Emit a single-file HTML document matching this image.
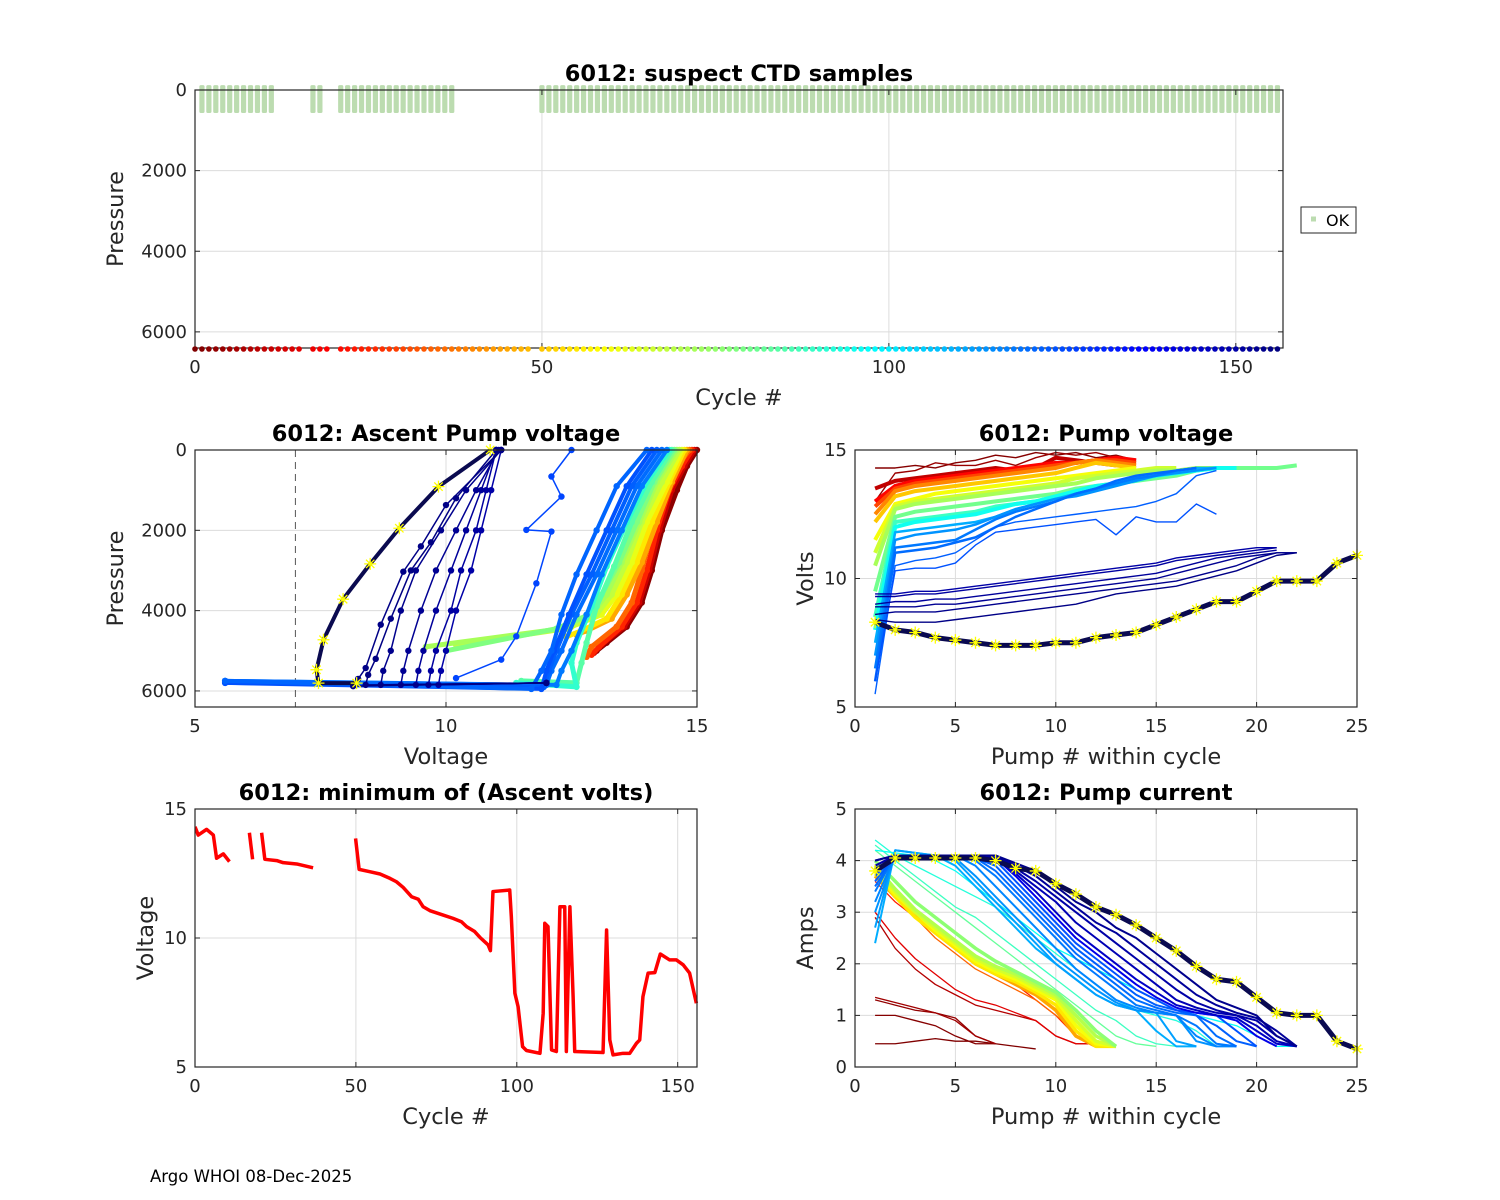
<!DOCTYPE html>
<html><head><meta charset="utf-8"><title>6012 pump diagnostics</title>
<style>
html,body{margin:0;padding:0;background:#fff;}
svg{display:block;font-family:"DejaVu Sans","Liberation Sans",sans-serif;}
</style></head>
<body>
<svg id="fig" width="1500" height="1200" viewBox="0 0 1500 1200" xmlns="http://www.w3.org/2000/svg">
<rect x="0" y="0" width="1500" height="1200" fill="#fff"/>
<text x="150" y="1182" font-size="16.5" fill="#000">Argo WHOI 08-Dec-2025</text>
</svg>
<script>
// ---------- DATA ----------
const okCycles = [1,2,3,4,5,6,7,8,9,10,11,17,18,21,22,23,24,25,26,27,28,29,30,31,32,33,34,35,36,37];
const okCyclesLate = [50,156];
const okPresTop = -120;
const okPresBot = 570;
const cycleDots = [0,1,2,3,4,5,6,7,8,9,10,11,12,13,14,15,17,18,19];
const cycleDotsLate = [21,156];
const cycleDotsMissing = [49];
const maxCycle = 156;

const minCycles = [0,1,3.6,5.7,6.7,8.8,10.7,null,16.9,17.9,null,20.7,21.7,25.4,27.4,31.6,36.7,null,
 49.9,51.0,54.3,57.5,60.6,62.6,64.7,67.3,69.4,70.9,73.0,77.1,80.2,82.8,84.4,86.9,88.5,91.1,91.8,92.6,97.8,98.3,99.4,100.4,101.8,103.0,107.2,108.2,108.7,109.7,110.8,112.3,113.4,114.9,115.4,116.5,117.5,118.0,126.8,127.9,128.9,129.9,133.0,135.1,137.2,138.2,139.2,140.8,142.9,144.6,147.5,149.6,151.7,153.7,155.8];
const minVolts = [14.31,13.99,14.21,13.99,13.09,13.26,12.96,null,14.08,13.05,null,14.08,13.05,13.0,12.92,12.87,12.72,null,
 13.86,12.66,12.57,12.48,12.31,12.18,11.96,11.60,11.5,11.21,11.06,10.89,10.76,10.63,10.44,10.25,10.03,9.73,9.51,11.8,11.86,10.83,7.86,7.34,5.79,5.64,5.53,7.08,10.57,10.44,5.66,5.6,11.21,11.21,5.6,11.21,7.73,5.6,5.56,10.31,6.05,5.47,5.53,5.53,5.92,6.05,7.73,8.64,8.66,9.38,9.15,9.15,8.96,8.64,7.47];

const ascCycles = [2,12,25,35,45,55,62,68,72,78,84,90,118,120,122,124,126,121,150,151,152,153,154,155,155.5,156];
const ascVolts = [
 [15,14.8,14.6,14.3,14.1,13.9,13.6,13.2,13.0],
 [14.95,14.75,14.5,14.25,14.05,13.85,13.55,13.1,12.95],
 [14.9,14.7,14.45,14.2,14.0,13.8,13.5,13.05,12.9],
 [14.85,14.6,14.35,14.1,13.9,13.7,13.4,12.9,12.8],
 [14.8,14.5,14.2,13.9,13.6,13.3,12.8,12.6],
 [14.75,14.45,14.1,13.8,13.5,13.2,12.7,12.4],
 [14.7,14.4,14.0,13.7,13.4,13.1,12.5,10.8],
 [14.65,14.3,13.9,13.6,13.3,13.0,12.4,10.2],
 [14.6,14.2,13.85,13.5,13.2,12.9,12.3,9.6],
 [14.55,14.15,13.8,13.45,13.1,12.85,12.2,10.0],
 [14.5,14.1,13.7,13.35,13.0,12.8,12.7,12.6,11.5],
 [14.45,14.0,13.6,13.2,12.9,12.6,12.5,12.6,11.4],
 [14.4,13.9,13.5,13.1,12.8,12.5,12.3,12.2,5.6],
 [14.3,13.8,13.4,13.0,12.6,12.3,12.1,12.0,5.6],
 [14.2,13.7,13.3,12.9,12.5,12.2,12.05,11.95,5.6],
 [14.1,13.6,13.2,12.8,12.45,12.15,12.0,11.9,5.6],
 [12.5,12.1,12.3,11.6,12.1,11.8,11.4,11.1,10.2],
 [14.0,13.4,13.0,12.6,12.3,12.1,11.9,11.7,5.6],
 [11.1,10.9,10.7,10.5,10.2,10.0,9.9,9.85,12.0],
 [11.0,10.8,10.6,10.3,10.1,9.8,9.7,9.65,12.0],
 [11.0,10.7,10.4,10.1,9.8,9.55,9.45,9.4,12.0],
 [11.05,10.6,10.2,9.8,9.5,9.25,9.15,9.1,12.0],
 [11.1,10.4,9.9,9.4,9.1,8.9,8.75,8.7,12.0],
 [11.1,10.0,9.5,9.15,8.7,8.4,8.25,8.15,12.0],
 [11.0,10.2,9.7,9.3,8.9,8.6,8.45,8.4,12.0],
 [10.88,9.85,9.07,8.49,7.95,7.56,7.42,7.46,8.22]
];
const ascPres = [
 [0,400,1000,2000,3000,3800,4400,4800,5000],
 [0,400,1000,2000,3000,3800,4400,4850,5050],
 [0,400,1000,2000,3000,3800,4400,4900,5100],
 [0,400,1000,2000,3000,3800,4400,4900,5150],
 [0,800,1800,2800,3600,4200,4500,4600],
 [0,800,1800,2800,3600,4200,4500,4650],
 [0,800,1800,2800,3600,4100,4400,4750],
 [0,800,1800,2800,3600,4100,4450,4850],
 [0,800,1800,2800,3600,4100,4450,4900],
 [0,800,1800,2800,3600,4100,4450,5000],
 [0,800,1800,2900,3900,4800,5300,5800,5750],
 [0,800,1800,2900,3900,4800,5300,5900,5800],
 [0,900,2000,3100,4100,5000,5500,5850,5750],
 [0,900,2000,3100,4100,5000,5500,5850,5750],
 [0,900,2000,3100,4100,5000,5500,5900,5800],
 [0,900,2000,3100,4100,5000,5500,5950,5800],
 [0,660,1160,1990,2030,3320,4640,5220,5680],
 [0,900,2000,3100,4100,5000,5500,5950,5750],
 [0,1000,2000,3000,4000,5000,5500,5850,5800],
 [0,1000,2000,3000,4000,5000,5500,5850,5800],
 [0,1000,2000,3000,4000,5000,5500,5850,5800],
 [0,1000,2000,3000,4000,5000,5500,5850,5800],
 [0,1000,2000,3000,4000,5000,5500,5850,5800],
 [0,1370,2400,3030,4350,5430,5700,5880,5800],
 [0,1200,2300,3000,4200,5200,5600,5850,5800],
 [0,912,1948,2836,3715,4726,5473,5805,5805]
];
const ascDashVolt = 7;

const pvCycles = [1,4,10,20,30,40,50,60,66,72,80,88,95,110,114,118,120,122,124,150,151,152,153,154,155,156];
const pvVolts = [
 [14.3,14.3,14.4,14.3,14.5,14.6,14.8,14.7,14.9,14.8,14.9,14.7,14.8,14.6],
 [13.0,14.1,14.2,14.5,14.4,14.4,14.6,14.4,14.7,14.9,14.8,14.9,14.7],
 [13.5,13.8,13.9,14.0,14.1,14.2,14.3,14.2,14.3,14.7,14.6,14.5,14.4],
 [13.0,13.6,13.8,13.9,14.0,14.1,14.2,14.3,14.4,14.5,14.5,14.6,14.7,14.6],
 [12.8,13.5,13.7,13.8,13.9,14.0,14.1,14.2,14.3,14.4,14.5,14.6,14.6,14.5],
 [12.5,13.4,13.6,13.7,13.8,13.9,14.0,14.1,14.2,14.3,14.5,14.6,14.5,14.4],
 [12.2,13.2,13.4,13.5,13.6,13.7,13.8,13.9,14.0,14.1,14.3,14.5,14.4,14.3],
 [11.5,12.9,13.1,13.3,13.4,13.5,13.6,13.7,13.8,13.9,14.0,14.1,14.2,14.3],
 [11.0,12.8,13.0,13.1,13.2,13.3,13.4,13.5,13.6,13.7,13.9,14.0,14.1,14.2,14.3,14.3],
 [10.5,12.7,12.9,13.0,13.1,13.2,13.3,13.4,13.5,13.6,13.7,13.9,14.0,14.1,14.2,14.2,14.3,14.3,14.3],
 [9.5,12.4,12.6,12.7,12.8,12.9,13.0,13.1,13.2,13.3,13.5,13.6,13.7,13.8,13.9,14.0,14.2,14.3,14.3,14.3,14.3,14.4],
 [8.5,12.2,12.3,12.4,12.5,12.6,12.8,12.9,13.0,13.2,13.3,13.5,13.7,13.8,14.0,14.1,14.2,14.3,14.3],
 [8.0,12.0,12.2,12.3,12.4,12.5,12.7,12.9,13.0,13.2,13.4,13.6,13.7,13.9,14.0,14.1,14.2,14.3,14.3],
 [7.5,11.8,11.9,12.0,12.1,12.2,12.4,12.7,12.9,13.1,13.3,13.5,13.7,13.9,14.0,14.2,14.3,14.3],
 [7.0,11.5,11.7,11.8,11.9,12.1,12.4,12.7,12.9,13.1,13.2,13.4,13.6,13.8,14.0,14.1,14.2,14.3],
 [6.5,11.2,11.3,11.4,11.5,11.9,12.3,12.6,12.8,13.0,13.3,13.5,13.7,13.9,14.0,14.2,14.3],
 [6.0,11.0,11.1,11.2,11.4,11.6,12.0,12.4,12.7,13.0,13.3,13.5,13.8,14.0,14.1,14.2,14.3],
 [5.5,10.5,10.7,10.8,11.0,11.5,12.0,12.2,12.3,12.4,12.5,12.6,12.7,12.8,13.0,13.3,14.0,14.2],
 [6.0,10.3,10.4,10.4,10.6,11.3,11.8,11.9,12.0,12.1,12.2,12.3,11.7,12.4,12.2,12.2,12.9,12.5],
 [9.4,9.4,9.5,9.5,9.6,9.7,9.8,9.9,10.0,10.1,10.2,10.3,10.4,10.5,10.6,10.8,10.9,11.0,11.1,11.2,11.2],
 [9.3,9.3,9.4,9.4,9.5,9.6,9.7,9.8,9.9,10.0,10.1,10.2,10.3,10.4,10.5,10.7,10.8,10.9,11.0,11.1,11.2],
 [9.0,9.1,9.1,9.2,9.2,9.3,9.4,9.5,9.6,9.7,9.8,9.9,10.0,10.1,10.2,10.4,10.6,10.8,10.9,11.0,11.1],
 [8.9,8.9,8.9,9.0,9.0,9.1,9.2,9.3,9.4,9.5,9.6,9.7,9.8,9.9,10.0,10.2,10.4,10.6,10.8,10.9,11.0,11.0],
 [8.6,8.7,8.7,8.7,8.8,8.9,9.0,9.1,9.2,9.3,9.4,9.5,9.6,9.7,9.8,9.9,10.1,10.3,10.5,10.8,11.0,11.0],
 [8.4,8.3,8.3,8.3,8.4,8.5,8.6,8.7,8.8,8.9,9.0,9.2,9.4,9.5,9.6,9.7,9.9,10.1,10.3,10.6,10.9,11.0],
 [8.3,8.0,7.9,7.7,7.6,7.5,7.4,7.4,7.4,7.5,7.5,7.7,7.8,7.9,8.2,8.5,8.8,9.1,9.1,9.5,9.9,9.9,9.9,10.6,10.9]
];

const pcCycles = [0,1,3,5,8,15,25,35,45,55,60,65,70,76,82,88,92,96,110,112,114,116,118,120,122,124,140,145,148,150,152,154,156];
const pcAmps = [
 [0.45,0.45,0.5,0.55,0.5,0.5,0.45,0.4,0.35],
 [1.0,1.0,0.9,0.8,0.6,0.45,0.45],
 [1.3,1.2,1.1,1.05,0.95,0.6,0.45],
 [1.35,1.25,1.15,1.05,0.9,0.6,0.45],
 [2.9,2.3,1.9,1.6,1.4,1.2,1.1,1.0,0.9,0.6,0.45,0.45],
 [3.0,2.5,2.1,1.8,1.5,1.3,1.2,1.05,0.9,0.6,0.45,0.45],
 [3.6,3.2,2.9,2.6,2.3,2.0,1.8,1.6,1.3,1.0,0.6,0.4],
 [3.7,3.3,2.9,2.5,2.2,1.9,1.7,1.5,1.3,1.0,0.7,0.4],
 [3.7,3.3,2.95,2.6,2.3,2.0,1.8,1.6,1.4,1.1,0.6,0.4],
 [3.8,3.3,2.9,2.6,2.3,2.0,1.8,1.65,1.45,1.2,0.7,0.4,0.4],
 [3.8,3.35,3.0,2.65,2.35,2.05,1.85,1.7,1.5,1.3,0.8,0.45,0.4],
 [3.9,3.4,3.0,2.7,2.4,2.1,1.9,1.75,1.55,1.35,0.9,0.5,0.4],
 [3.9,3.45,3.05,2.75,2.45,2.15,1.95,1.8,1.6,1.4,1.0,0.6,0.4],
 [4.0,3.6,3.2,2.9,2.6,2.3,2.05,1.85,1.65,1.45,1.1,0.7,0.4],
 [4.2,3.9,3.6,3.3,3.0,2.7,2.4,2.1,1.8,1.5,1.2,0.9,0.6,0.45,0.4],
 [4.3,4.0,3.7,3.4,3.1,2.9,2.6,2.3,2.0,1.7,1.4,1.1,0.9,0.6,0.45,0.4],
 [4.4,4.1,3.9,3.7,3.5,3.3,3.1,2.8,2.5,2.2,1.9,1.6,1.3,1.1,1.0,0.9,0.7,0.4],
 [4.2,4.15,4.1,4.0,3.8,3.5,3.2,2.9,2.6,2.3,2.1,1.9,1.7,1.5,1.3,1.1,1.0,0.9,0.8,0.6,0.4,0.4],
 [2.4,4.2,4.15,4.1,3.9,3.5,3.1,2.7,2.3,2.0,1.7,1.4,1.2,1.1,0.7,0.4,0.4],
 [2.7,4.2,4.15,4.1,4.0,3.6,3.2,2.8,2.4,2.0,1.7,1.4,1.2,1.1,1.05,0.5,0.4],
 [3.0,4.1,4.1,4.1,4.05,3.7,3.3,2.9,2.5,2.1,1.8,1.5,1.25,1.1,1.05,1.0,0.5,0.4],
 [3.2,4.1,4.1,4.1,4.1,3.9,3.5,3.1,2.7,2.3,1.9,1.6,1.3,1.15,1.05,1.0,0.6,0.4,0.4],
 [3.4,4.1,4.1,4.1,4.1,4.0,3.7,3.3,2.9,2.5,2.1,1.8,1.5,1.2,1.1,1.0,0.8,0.45,0.4],
 [3.5,4.1,4.1,4.1,4.1,4.05,3.8,3.4,3.0,2.6,2.2,1.9,1.6,1.3,1.15,1.05,1.0,0.6,0.4],
 [3.6,4.1,4.1,4.1,4.1,4.05,3.9,3.5,3.1,2.7,2.3,2.0,1.7,1.4,1.2,1.1,1.0,0.8,0.5,0.4],
 [3.7,4.1,4.1,4.1,4.1,4.1,4.0,3.6,3.2,2.8,2.4,2.1,1.8,1.5,1.3,1.1,1.05,1.0,0.7,0.4],
 [3.8,4.1,4.1,4.1,4.1,4.1,4.05,3.7,3.3,2.9,2.5,2.2,1.9,1.6,1.35,1.15,1.05,1.0,0.9,0.6,0.4],
 [3.8,4.1,4.1,4.1,4.1,4.1,4.05,3.75,3.4,3.0,2.6,2.3,2.0,1.7,1.45,1.2,1.1,1.0,0.95,0.7,0.45,0.4],
 [3.9,4.1,4.1,4.1,4.1,4.1,4.05,3.8,3.5,3.2,2.8,2.5,2.2,1.9,1.6,1.3,1.15,1.05,1.0,0.8,0.5,0.4],
 [3.9,4.1,4.1,4.1,4.1,4.1,4.1,3.85,3.6,3.3,3.0,2.7,2.4,2.1,1.8,1.5,1.25,1.1,1.0,0.9,0.6,0.4],
 [4.0,4.1,4.1,4.1,4.1,4.1,4.1,3.9,3.7,3.4,3.1,2.8,2.6,2.3,2.0,1.7,1.4,1.2,1.05,0.95,0.7,0.4],
 [4.0,4.1,4.1,4.1,4.1,4.1,4.1,3.95,3.8,3.5,3.2,3.0,2.7,2.5,2.2,1.9,1.6,1.3,1.15,1.0,0.6,0.4],
 [3.8,4.05,4.05,4.05,4.05,4.05,4.0,3.85,3.8,3.55,3.35,3.1,2.95,2.75,2.5,2.25,1.95,1.7,1.65,1.35,1.05,1.0,1.0,0.5,0.35]
];

// ---------- DRAWING ----------
const NS = 'http://www.w3.org/2000/svg';
const svg = document.getElementById('fig');
function mk(tag, attrs, parent) {
  const e = document.createElementNS(NS, tag);
  for (const k in attrs) e.setAttribute(k, attrs[k]);
  (parent || svg).appendChild(e);
  return e;
}
function clamp(v){return Math.max(0,Math.min(1,v));}
function jet(t){
  const r=clamp(1.5-Math.abs(4*t-3)), g=clamp(1.5-Math.abs(4*t-2)), b=clamp(1.5-Math.abs(4*t-1));
  return 'rgb('+Math.round(r*255)+','+Math.round(g*255)+','+Math.round(b*255)+')';
}
function cycColor(c){ return jet(1 - c/maxCycle); }

let clipId = 0;
function makeAxes(o) {
  const g = mk('g', {});
  
  
  const sx = v => o.L + (v - o.x0) / (o.x1 - o.x0) * (o.R - o.L);
  const sy = o.rev ? (v => o.T + (v - o.y0) / (o.y1 - o.y0) * (o.B - o.T))
                   : (v => o.B - (v - o.y0) / (o.y1 - o.y0) * (o.B - o.T));
  mk('rect', {x:o.L, y:o.T, width:o.R-o.L, height:o.B-o.T, fill:'#fff'}, g);
  o.xt.forEach(v => {
    const l = mk('line', {x1:sx(v), x2:sx(v), y1:o.T, y2:o.B, stroke:'#dcdcdc', 'stroke-width':1}, g);
    
    
  });
  o.yt.forEach(v => {
    const l = mk('line', {x1:o.L, x2:o.R, y1:sy(v), y2:sy(v), stroke:'#dcdcdc', 'stroke-width':1}, g);
    
    
  });
  clipId++;
  const cp = mk('clipPath', {id:'cp'+clipId}, g);
  mk('rect', {x:o.L, y:o.T-6, width:o.R-o.L+6, height:o.B-o.T+12}, cp);
  const data = mk('g', {'clip-path':'url(#cp'+clipId+')'}, g);
  
  
  return {g, data, sx, sy, o};
}
function finishAxes(ax) {
  const o = ax.o, g = ax.g, sx = ax.sx, sy = ax.sy;
  const box = mk('rect', {x:o.L, y:o.T, width:o.R-o.L, height:o.B-o.T, fill:'none', stroke:'#262626', 'stroke-width':1.2}, g);
  
  
  const tl = 5;
  o.xt.forEach((v,i) => {
    mk('line', {x1:sx(v), x2:sx(v), y1:o.B, y2:o.B-tl, stroke:'#262626'}, g);
    mk('line', {x1:sx(v), x2:sx(v), y1:o.T, y2:o.T+tl, stroke:'#262626'}, g);
    const t = mk('text', {x:sx(v), y:o.B+25, 'font-size':18, 'text-anchor':'middle', fill:'#262626'}, g);
    t.textContent = o.xl[i];
    
    
  });
  o.yt.forEach((v,i) => {
    mk('line', {x1:o.L, x2:o.L+tl, y1:sy(v), y2:sy(v), stroke:'#262626'}, g);
    mk('line', {x1:o.R, x2:o.R-tl, y1:sy(v), y2:sy(v), stroke:'#262626'}, g);
    const t = mk('text', {x:o.L-8, y:sy(v)+6, 'font-size':18, 'text-anchor':'end', fill:'#262626'}, g);
    t.textContent = o.yl[i];
    
    
  });
  const ti = mk('text', {x:(o.L+o.R)/2, y:o.T-9, 'font-size':22.5, 'font-weight':'bold', 'text-anchor':'middle', fill:'#000'}, g);
  ti.textContent = o.title;
  
  
  const xlab = mk('text', {x:(o.L+o.R)/2, y:o.B+57, 'font-size':22.5, 'text-anchor':'middle', fill:'#262626'}, g);
  xlab.textContent = o.xlabel;
  
  
  const yx = o.L - o.ylabOff, yy = (o.T+o.B)/2;
  const ylab = mk('text', {x:yx, y:yy, 'font-size':22.5, 'text-anchor':'middle', fill:'#262626', transform:'rotate(-90 '+yx+' '+yy+')'}, g);
  ylab.textContent = o.ylabel;
  
  
}
function star(parent, x, y, r) {
  const s = mk('path', {d:'M'+(x-r)+' '+y+'H'+(x+r)+'M'+x+' '+(y-r)+'V'+(y+r)+
    'M'+(x-r*0.7)+' '+(y-r*0.7)+'L'+(x+r*0.7)+' '+(y+r*0.7)+'M'+(x-r*0.7)+' '+(y+r*0.7)+'L'+(x+r*0.7)+' '+(y-r*0.7),
    stroke:'#ffff00', 'stroke-width':1.3, fill:'none'}, parent);
  
  
}

// ---- Top axes ----
const axT = makeAxes({name:'suspect-ctd-axes', L:195, R:1283, T:90, B:348, x0:0, x1:156.8, y0:0, y1:6400, rev:true,
  xt:[0,50,100,150], xl:['0','50','100','150'], yt:[0,2000,4000,6000], yl:['0','2000','4000','6000'],
  title:'6012: suspect CTD samples', xlabel:'Cycle #', ylabel:'Pressure', ylabOff:72});
const okAll = okCycles.slice();
for (let c = okCyclesLate[0]; c <= okCyclesLate[1]; c++) okAll.push(c);
okAll.forEach(c => {
  const r = mk('rect', {x:axT.sx(c)-2.6, y:axT.sy(okPresTop), width:5.2, height:axT.sy(okPresBot)-axT.sy(okPresTop), rx:1.5, fill:'#bcdcb0'}, axT.data);
  
  
});
const dotsAll = cycleDots.slice();
for (let c = cycleDotsLate[0]; c <= cycleDotsLate[1]; c++) if (cycleDotsMissing.indexOf(c) < 0) dotsAll.push(c);
finishAxes(axT);
dotsAll.forEach(c => {
  const d = mk('circle', {cx:axT.sx(c), cy:axT.sy(6400)+1, r:2.8, fill:cycColor(c)}, axT.g);
  
  
});
const leg = mk('g', {});


mk('rect', {x:1301, y:207, width:55, height:26, fill:'#fff', stroke:'#262626', 'stroke-width':1}, leg);
const legM = mk('rect', {x:1311, y:216.5, width:5, height:5, fill:'#bcdcb0'}, leg);


const legT = mk('text', {x:1326, y:226, 'font-size':16, fill:'#000'}, leg);
legT.textContent = 'OK';



// ---- Middle-left ----
const axA = makeAxes({name:'ascent-pump-voltage-axes', L:195, R:697, T:450, B:707, x0:5, x1:15, y0:0, y1:6400, rev:true,
  xt:[5,10,15], xl:['5','10','15'], yt:[0,2000,4000,6000], yl:['0','2000','4000','6000'],
  title:'6012: Ascent Pump voltage', xlabel:'Voltage', ylabel:'Pressure', ylabOff:72});
const dash = mk('line', {x1:axA.sx(ascDashVolt), x2:axA.sx(ascDashVolt), y1:450, y2:707, stroke:'#555', 'stroke-dasharray':'7,5', 'stroke-width':1}, axA.data);


ascCycles.forEach((c, i) => {
  const last = i === ascCycles.length - 1;
  const col = last ? '#0a0a50' : cycColor(c);
  const pts = ascVolts[i].map((v, j) => axA.sx(v) + ',' + axA.sy(ascPres[i][j])).join(' ');
  const w = last ? 4 : (c < 100 ? 5 : (c < 126 ? 4 : 1.5));
  const pl = mk('polyline', {points:pts, fill:'none', stroke:col, 'stroke-width':w, 'stroke-linejoin':'round'}, axA.data);
  
  
  ascVolts[i].forEach((v, j) => {
    if (last) { star(axA.data, axA.sx(v), axA.sy(ascPres[i][j]), 6); return; }
    const d = mk('circle', {cx:axA.sx(v), cy:axA.sy(ascPres[i][j]), r:3.2, fill:col}, axA.data);
    
    
  });
});
finishAxes(axA);

// ---- Middle-right ----
const axV = makeAxes({name:'pump-voltage-axes', L:855, R:1357, T:450, B:707, x0:0, x1:25, y0:5, y1:15, rev:false,
  xt:[0,5,10,15,20,25], xl:['0','5','10','15','20','25'], yt:[5,10,15], yl:['5','10','15'],
  title:'6012: Pump voltage', xlabel:'Pump # within cycle', ylabel:'Volts', ylabOff:42});
pvCycles.forEach((c, i) => {
  const last = i === pvCycles.length - 1;
  const col = last ? '#0a0a50' : cycColor(c);
  const pts = pvVolts[i].map((v, j) => axV.sx(j+1) + ',' + axV.sy(v)).join(' ');
  const w = last ? 5 : (c >= 10 && c <= 95 ? 4 : (c >= 110 && c <= 120 ? 2.5 : 1.4));
  const pl = mk('polyline', {points:pts, fill:'none', stroke:col, 'stroke-width':w, 'stroke-linejoin':'round'}, axV.data);
  
  
  if (last) pvVolts[i].forEach((v, j) => star(axV.data, axV.sx(j+1), axV.sy(v), 6));
});
finishAxes(axV);

// ---- Bottom-left ----
const axM = makeAxes({name:'min-ascent-volts-axes', L:195, R:697, T:809, B:1067, x0:0, x1:156, y0:5, y1:15, rev:false,
  xt:[0,50,100,150], xl:['0','50','100','150'], yt:[5,10,15], yl:['5','10','15'],
  title:'6012: minimum of (Ascent volts)', xlabel:'Cycle #', ylabel:'Voltage', ylabOff:42});
let seg = [];
function flush(){
  if (seg.length) {
    const pl = mk('polyline', {points:seg.join(' '), fill:'none', stroke:'#ff0000', 'stroke-width':3.5, 'stroke-linejoin':'round'}, axM.data);
    
    
  }
  seg = [];
}
minCycles.forEach((c, i) => {
  if (c === null || minVolts[i] === null) { flush(); return; }
  seg.push(axM.sx(c) + ',' + axM.sy(minVolts[i]));
});
flush();
finishAxes(axM);

// ---- Bottom-right ----
const axC = makeAxes({name:'pump-current-axes', L:855, R:1357, T:809, B:1067, x0:0, x1:25, y0:0, y1:5, rev:false,
  xt:[0,5,10,15,20,25], xl:['0','5','10','15','20','25'], yt:[0,1,2,3,4,5], yl:['0','1','2','3','4','5'],
  title:'6012: Pump current', xlabel:'Pump # within cycle', ylabel:'Amps', ylabOff:42});
pcCycles.forEach((c, i) => {
  const last = i === pcCycles.length - 1;
  const col = last ? '#0a0a50' : cycColor(c);
  const pts = pcAmps[i].map((v, j) => axC.sx(j+1) + ',' + axC.sy(v)).join(' ');
  const w = last ? 5 : (c >= 45 && c <= 76 ? 3.5 : (c >= 110 ? 2 : 1.3));
  const pl = mk('polyline', {points:pts, fill:'none', stroke:col, 'stroke-width':w, 'stroke-linejoin':'round'}, axC.data);
  
  
  if (last) pcAmps[i].forEach((v, j) => star(axC.data, axC.sx(j+1), axC.sy(v), 6));
});
finishAxes(axC);
svg.appendChild(leg);
</script>
</body></html>
